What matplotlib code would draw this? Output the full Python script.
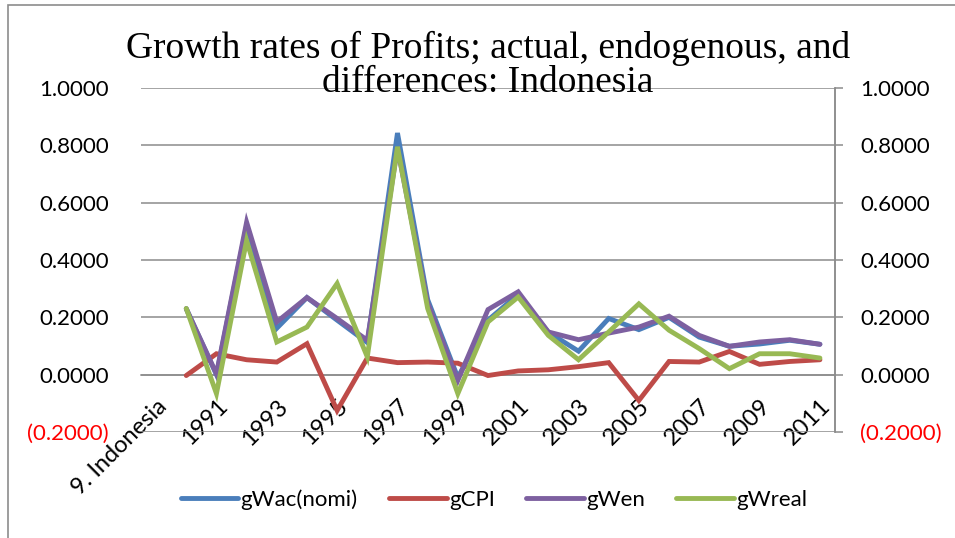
import matplotlib
matplotlib.use("Agg")
import matplotlib.pyplot as plt
from matplotlib.patches import Rectangle
from matplotlib.ticker import FuncFormatter

# categories: first slot is the country label, then the years
categories = ["9. Indonesia"] + [str(y) for y in range(1990, 2012)]

g_wac = [None, 0.230, 0.000, 0.520, 0.162, 0.269, 0.190, 0.112, 0.843, 0.262, -0.010,
         0.190, 0.280, 0.148, 0.082, 0.196, 0.157, 0.200, 0.131, 0.099, 0.107, 0.120, 0.106]
g_cpi = [None, -0.003, 0.073, 0.052, 0.044, 0.108, -0.125, 0.058, 0.042, 0.044, 0.040,
         -0.003, 0.013, 0.017, 0.028, 0.042, -0.090, 0.046, 0.044, 0.081, 0.036, 0.046, 0.052]
g_wen = [None, 0.230, 0.003, 0.532, 0.184, 0.269, 0.196, 0.120, 0.790, 0.250, -0.020,
         0.227, 0.289, 0.149, 0.122, 0.145, 0.166, 0.204, 0.137, 0.099, 0.114, 0.122, 0.106]
g_wreal = [None, 0.231, -0.066, 0.468, 0.114, 0.166, 0.318, 0.062, 0.795, 0.231, -0.066,
           0.184, 0.271, 0.137, 0.052, 0.149, 0.247, 0.155, 0.091, 0.021, 0.073, 0.073, 0.058]

series = [("gWac(nomi)", g_wac, "#4A7EBB"),
          ("gCPI", g_cpi, "#BE4B48"),
          ("gWen", g_wen, "#7D60A0"),
          ("gWreal", g_wreal, "#98B954")]

yticks = [-0.2, 0.0, 0.2, 0.4, 0.6, 0.8, 1.0]

tick_font = "Lato"
tick_size = 16
grid_col = "#8c8c8c"


def fmt(v, pos=None):
    if v < -1e-9:
        return "({:.4f})".format(abs(v))
    return "{:.4f}".format(abs(v))


fig = plt.figure(figsize=(9.55, 5.38), dpi=100)
ax = fig.add_axes([141 / 955, 1 - 432 / 538, (835 - 141) / 955, (432 - 88) / 538])

x = list(range(len(categories)))
for name, vals, col in series:
    xs = [i for i, v in zip(x, vals) if v is not None]
    ys = [v for v in vals if v is not None]
    ax.plot(xs, ys, color=col, lw=3.5, label=name, solid_joinstyle="miter",
            solid_capstyle="round", zorder=3)

ax.set_xlim(-0.5, len(categories) - 0.5)
ax.set_ylim(-0.2, 1.0)
ax.set_yticks(yticks)
ax.yaxis.set_major_formatter(FuncFormatter(fmt))
ax.grid(axis="y", color=grid_col, lw=1.1, zorder=0)
ax.set_axisbelow(True)

for s in ["left", "top"]:
    ax.spines[s].set_visible(False)
ax.spines["right"].set_color(grid_col)
ax.spines["right"].set_linewidth(1.1)
ax.spines["bottom"].set_position(("data", 0))
ax.spines["bottom"].set_color(grid_col)
ax.spines["bottom"].set_linewidth(1.1)

ax.set_xticks(x[::2])
ax.set_xticklabels(categories[::2], rotation=45, ha="right", va="top",
                   rotation_mode="anchor", fontsize=17, family=tick_font)
ax.tick_params(axis="x", length=0, pad=15)
ax.tick_params(axis="y", length=0, pad=23, labelsize=tick_size)
for lab in ax.get_yticklabels():
    lab.set_family(tick_font)

ax2 = ax.twinx()
ax2.set_ylim(ax.get_ylim())
ax2.set_yticks(yticks)
ax2.yaxis.set_major_formatter(FuncFormatter(fmt))
for s in ["left", "top", "bottom"]:
    ax2.spines[s].set_visible(False)
ax2.spines["right"].set_color(grid_col)
ax2.spines["right"].set_linewidth(1.1)
ax2.tick_params(axis="y", length=6, width=1.1, color=grid_col, pad=12, labelsize=tick_size)
for lab in ax2.get_yticklabels():
    lab.set_family(tick_font)

fig.canvas.draw()
for a in (ax, ax2):
    for v, lab in zip(yticks, a.get_yticklabels()):
        if v < 0:
            lab.set_color("red")

fig.text(0.511, 0.878, "Growth rates of Profits; actual, endogenous, and\ndifferences: Indonesia",
         ha="center", va="center", family="Liberation Serif", fontsize=27,
         linespacing=0.98, zorder=5)

leg = fig.legend(*ax.get_legend_handles_labels(), loc="center", ncol=4,
                 bbox_to_anchor=(0.517, 0.071), frameon=False,
                 prop={"family": tick_font, "size": tick_size},
                 handlelength=2.6, handletextpad=0.1, columnspacing=1.4)

fig.patches.append(Rectangle((8 / 955, -0.1), 1.2, 1.1 - 5 / 538,
                             transform=fig.transFigure, fill=False,
                             edgecolor="#8c8c8c", lw=1.2))

fig.savefig("out.png", dpi=100)
